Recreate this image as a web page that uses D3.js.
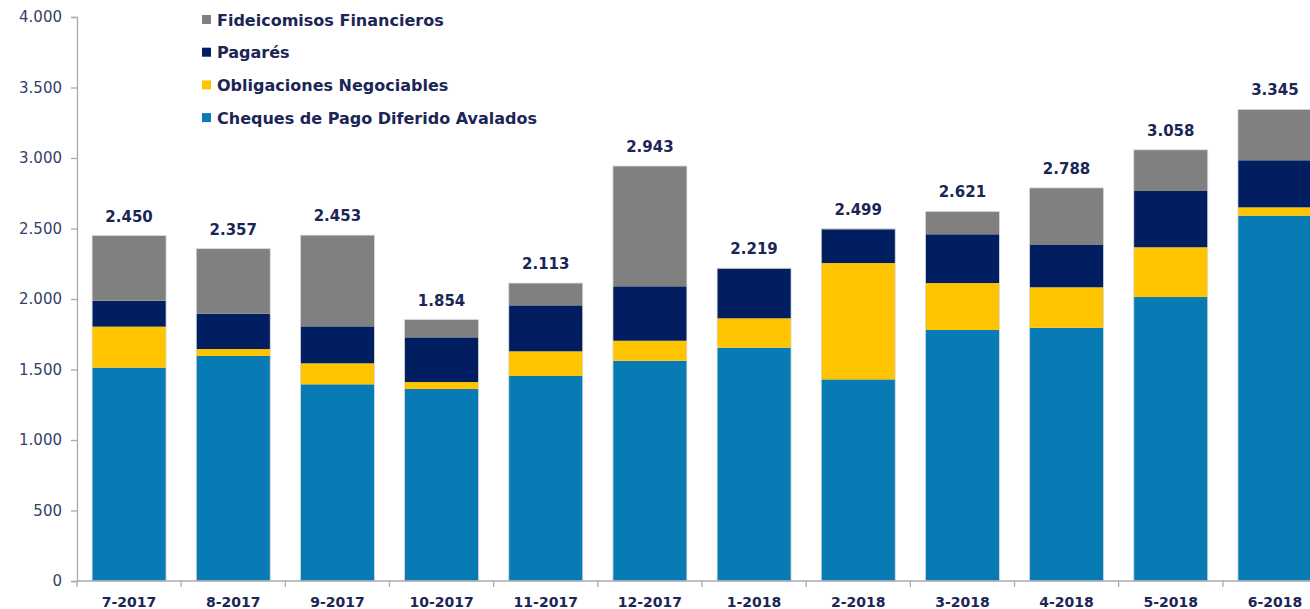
<!DOCTYPE html>
<html>
<head>
<meta charset="utf-8">
<script src="https://cdn.jsdelivr.net/npm/d3@7"></script>
<style>
  html, body { margin: 0; padding: 0; background: #fff; overflow: hidden; }
  svg { display: block; font-family: "DejaVu Sans", Verdana, sans-serif; }
</style>
</head>
<body>
<svg id="chart" width="1310" height="609"></svg>
<script>
// Months on the x axis
var months = ["7-2017", "8-2017", "9-2017", "10-2017", "11-2017", "12-2017",
              "1-2018", "2-2018", "3-2018", "4-2018", "5-2018", "6-2018"];

// Series values
var cheques     = [1513, 1596, 1395, 1362, 1454, 1562, 1655, 1430, 1780, 1796, 2014, 2591];
var obligaciones = [291, 49, 149, 49, 175, 142, 208, 825, 333, 287, 353, 59];
var pagares     = [184, 251, 262, 317, 326, 386, 351, 239, 346, 300, 399, 334];
var fideicomisos = [462, 461, 647, 126, 158, 853, 5, 5, 162, 405, 292, 361];

// Totals printed above bars
var totals = [2450, 2357, 2453, 1854, 2113, 2943, 2219, 2499, 2621, 2788, 3058, 3345];

var yTicks = [0, 500, 1000, 1500, 2000, 2500, 3000, 3500, 4000];

// Series, bottom to top
var seriesNames = ["Cheques de Pago Diferido Avalados", "Obligaciones Negociables", "Pagarés", "Fideicomisos Financieros"];
var seriesColors = ["#087bb4", "#ffc400", "#001e60", "#808080"];
var seriesData = [cheques, obligaciones, pagares, fideicomisos];

var navy = "#1b2656";

var locale = d3.formatLocale({ decimal: ",", thousands: ".", grouping: [3], currency: ["$", ""] });
var fmt = locale.format(",d");

var svg = d3.select("#chart");

// Plot area (the last bar runs off the right edge, like the original)
var plotLeft = 77, plotRight = 1327, plotTop = 17, plotBottom = 581;

var x = d3.scaleBand()
    .domain(months)
    .range([plotLeft, plotRight])
    .paddingInner(0.29)
    .paddingOuter(0.145);

var y = d3.scaleLinear()
    .domain([0, 4000])
    .range([plotBottom, plotTop]);

// Build rows for stacking
var rows = months.map(function (m, i) {
    var r = { month: m };
    seriesNames.forEach(function (s, k) { r[s] = seriesData[k][i]; });
    return r;
});

var stack = d3.stack().keys(seriesNames);
var layers = stack(rows);

var color = d3.scaleOrdinal().domain(seriesNames).range(seriesColors);

// Bars
svg.append("g")
    .selectAll("g")
    .data(layers)
    .enter()
    .append("g")
    .attr("fill", function (d) { return color(d.key); })
    .selectAll("rect")
    .data(function (d) { return d; })
    .enter()
    .append("rect")
    .attr("x", function (d) { return x(d.data.month); })
    .attr("y", function (d) { return y(d[1]); })
    .attr("width", x.bandwidth())
    .attr("height", function (d) { return y(d[0]) - y(d[1]); });

// Light outline around each full bar
svg.append("g")
    .selectAll("rect")
    .data(months)
    .enter()
    .append("rect")
    .attr("x", function (d) { return x(d); })
    .attr("y", function (d, i) { return y(totals[i]); })
    .attr("width", x.bandwidth())
    .attr("height", function (d, i) { return y(0) - y(totals[i]); })
    .attr("fill", "none")
    .attr("stroke", "#d9d9d9")
    .attr("stroke-width", 0.8);

// Total labels
svg.append("g")
    .selectAll("text")
    .data(months)
    .enter()
    .append("text")
    .attr("x", function (d) { return x(d) + x.bandwidth() / 2; })
    .attr("y", function (d, i) { return y(totals[i]) - 14; })
    .attr("text-anchor", "middle")
    .attr("font-size", "15px")
    .attr("font-weight", "bold")
    .attr("fill", navy)
    .text(function (d, i) { return fmt(totals[i]); });

// Y axis
var yAxis = svg.append("g")
    .attr("transform", "translate(" + plotLeft + ",0)")
    .call(d3.axisLeft(y).tickValues(yTicks).tickFormat(fmt).tickSize(6).tickPadding(9));
yAxis.selectAll("path, line").attr("stroke", "#a8aab7").attr("stroke-width", 1.3);
yAxis.selectAll("text")
    .attr("font-size", "15px")
    .attr("font-family", "DejaVu Sans, sans-serif")
    .attr("fill", "#34416a");

// X axis: line, ticks between categories, bold labels
var xg = svg.append("g");
xg.append("line")
    .attr("x1", plotLeft).attr("x2", 1310)
    .attr("y1", plotBottom).attr("y2", plotBottom)
    .attr("stroke", "#a8aab7").attr("stroke-width", 1.3);

var step = x.step();
xg.selectAll("line.sep")
    .data(months)
    .enter()
    .append("line")
    .attr("class", "sep")
    .attr("x1", function (d) { return x(d) - x.paddingOuter() * step; })
    .attr("x2", function (d) { return x(d) - x.paddingOuter() * step; })
    .attr("y1", plotBottom).attr("y2", plotBottom + 6)
    .attr("stroke", "#a8aab7").attr("stroke-width", 1.3);

xg.selectAll("text")
    .data(months)
    .enter()
    .append("text")
    .attr("x", function (d) { return x(d) + x.bandwidth() / 2; })
    .attr("y", 607)
    .attr("text-anchor", "middle")
    .attr("font-size", "14px")
    .attr("font-weight", "bold")
    .attr("fill", navy)
    .text(function (d) { return d; });

// Legend (top series first)
var legendOrder = seriesNames.slice().reverse();
var legend = svg.append("g")
    .selectAll("g")
    .data(legendOrder)
    .enter()
    .append("g")
    .attr("transform", function (d, i) { return "translate(202," + (20 + i * 32.7) + ")"; });

legend.append("rect")
    .attr("x", 0).attr("y", -5)
    .attr("width", 9).attr("height", 9)
    .attr("fill", function (d) { return color(d); });

legend.append("text")
    .attr("x", 15)
    .attr("y", 5.5)
    .attr("font-size", "16px")
    .attr("font-weight", "bold")
    .attr("fill", navy)
    .text(function (d) { return d; });
</script>
</body>
</html>
